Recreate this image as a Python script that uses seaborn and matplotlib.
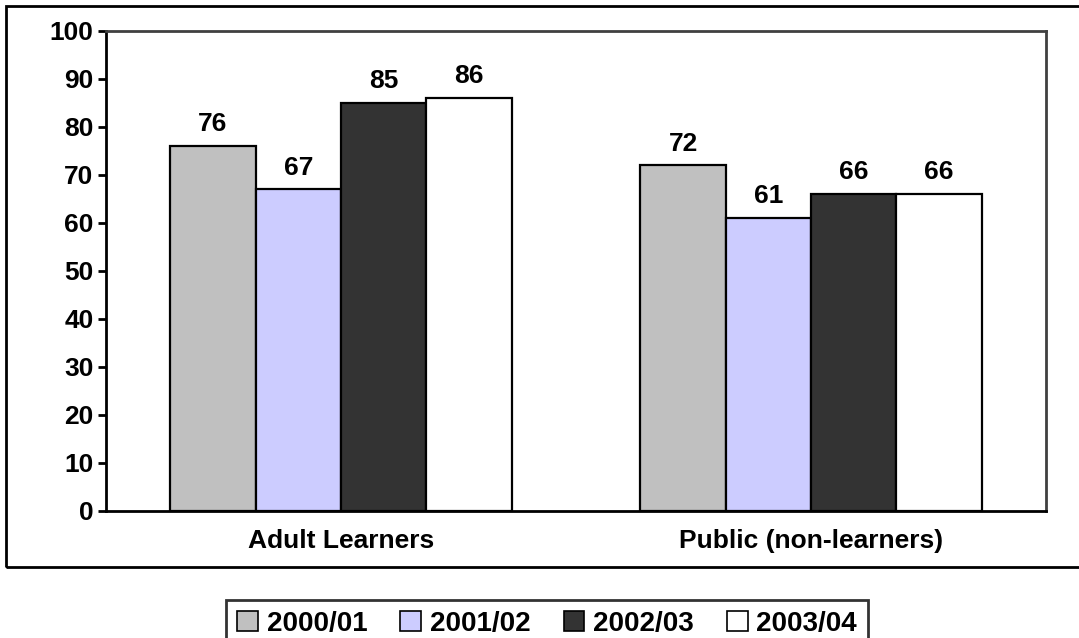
import seaborn as sns
import matplotlib.pyplot as plt
import pandas as pd
from matplotlib.patches import Rectangle

# data
groups = ["Adult Learners", "Public (non-learners)"]
years = ["2000/01", "2001/02", "2002/03", "2003/04"]
adult = [76, 67, 85, 86]
public = [72, 61, 66, 66]
colors = ["#C0C0C0", "#CCCCFF", "#333333", "#FFFFFF"]

rows = []
for y, a, p in zip(years, adult, public):
    rows.append({"Group": groups[0], "Year": y, "Value": a})
    rows.append({"Group": groups[1], "Year": y, "Value": p})
df = pd.DataFrame(rows)

sns.set_style("white")
plt.rcParams["font.family"] = ["Liberation Sans", "DejaVu Sans"]
plt.rcParams["font.weight"] = "bold"
plt.rcParams["text.color"] = "black"
plt.rcParams["xtick.color"] = "black"
plt.rcParams["ytick.color"] = "black"

fig = plt.figure(figsize=(10.79, 6.38), dpi=100)
ax = fig.add_axes([106 / 1079, 1 - 511 / 638, 940 / 1079, 480 / 638])

sns.barplot(data=df, x="Group", y="Value", hue="Year", order=groups,
            hue_order=years, palette=colors, width=0.726, gap=0,
            edgecolor="black", linewidth=1.6, saturation=1, ax=ax, legend=False)

for cont in ax.containers:
    ax.bar_label(cont, padding=7, fontsize=19, fontweight="bold", color="black")

ax.set_xlim(-0.5, 1.5)
ax.set_ylim(0, 100)
ax.set_yticks(range(0, 101, 10))
ax.set_xlabel("")
ax.set_ylabel("")

# category labels at centres, tick marks at the boundaries
ax.set_xticks([0, 1])
ax.set_xticklabels(groups, fontsize=19, fontweight="bold")
ax.tick_params(axis="x", which="major", length=0, pad=13)
ax.set_xticks([-0.5, 0.5, 1.5], minor=True)
ax.tick_params(axis="x", which="minor", length=6, width=2, direction="out", color="black")
ax.tick_params(axis="y", length=6, width=2, direction="out", left=True, pad=3,
               labelsize=19, color="black")
for lab in ax.get_yticklabels():
    lab.set_fontweight("bold")

for side in ["left", "bottom"]:
    ax.spines[side].set_color("black")
    ax.spines[side].set_linewidth(2)
for side in ["top", "right"]:
    ax.spines[side].set_color("#404040")
    ax.spines[side].set_linewidth(2)

# outer chart frame
fig.patches.append(Rectangle((6 / 1079, 1 - 567 / 638), 1080 / 1079, 561 / 638,
                             transform=fig.transFigure, fill=False,
                             edgecolor="black", linewidth=2))

handles = [Rectangle((0, 0), 1, 1, facecolor=c, edgecolor="black", linewidth=1.2)
           for c in colors]
leg = fig.legend(handles, years, loc="upper center", ncol=4,
                 bbox_to_anchor=(547 / 1079, 1 - 586 / 638),
                 prop={"size": 20, "weight": "bold"}, frameon=True,
                 fancybox=False, edgecolor="black", handlelength=0.75,
                 handleheight=0.75, handletextpad=0.3, columnspacing=1.2,
                 borderpad=0.4)
leg.get_frame().set_linewidth(2)

plt.savefig("out.png", dpi=100)
